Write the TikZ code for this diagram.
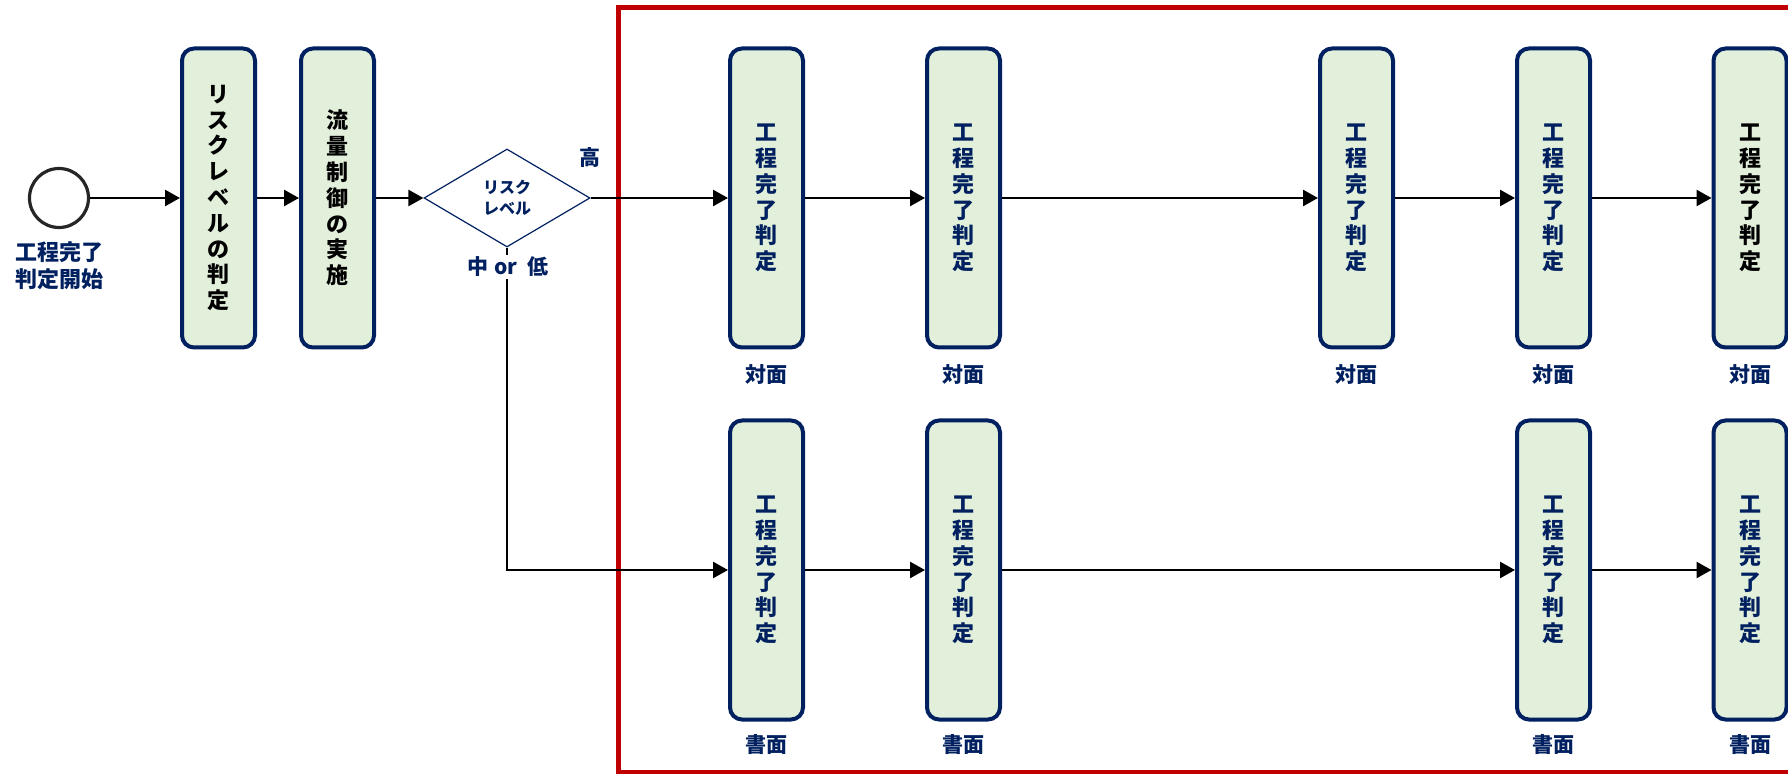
\documentclass[tikz,border=0pt]{standalone}
\usepackage{fontspec}
\setmainfont{Noto Sans CJK JP}
\usepackage{xcolor}
\usetikzlibrary{arrows.meta,positioning,shapes.geometric}
\definecolor{navy}{HTML}{002060}
\definecolor{boxgreen}{HTML}{E2EFDA}
\definecolor{framered}{HTML}{C00000}

\begin{document}
\begin{tikzpicture}[
  x=0.5pt, y=-0.5pt, on grid,
  every node/.style={font=\bfseries\fontsize{10.5}{12.8}\selectfont, align=center, text=navy},
  stage/.style={draw=navy, line width=2pt, rounded corners=6pt, fill=boxgreen, minimum width=36.5pt, minimum height=149.5pt, inner sep=0pt, font=\bfseries\fontsize{11}{12.9}\selectfont},
  startev/.style={circle, draw=black!85, line width=1.6pt, fill=white, minimum size=29.5pt, inner sep=0pt},
  decision/.style={diamond, draw=navy, line width=0.6pt, minimum width=83pt, minimum height=49pt, inner sep=0pt, font=\bfseries\fontsize{8}{10.5}\selectfont},
  modelabel/.style={inner sep=1pt},
  flow/.style={-{Triangle[length=7.5pt,width=8pt]}, line width=1.25pt},
  redframe/.style={draw=framered, line width=2.5pt}
]
\useasboundingbox (0,0) rectangle (1788,774);
\draw[redframe] (618,8) rectangle (1810,772);

\node[startev] (start) at (59,198) {};
\node[below=34pt of start, font=\bfseries\fontsize{11}{13.5}\selectfont] (startlbl) {工程完了\\判定開始};
\node[stage, text=black, right=79.75pt of start] (risk) {リ\\ス\\ク\\レ\\ベ\\ル\\の\\判\\定};
\node[stage, text=black, right=59.5pt of risk] (flowctl) {流\\量\\制\\御\\の\\実\\施};
\node[decision, right=84.75pt of flowctl] (level) {リスク\\レベル};
\node (high) at (590,158) {高};

\node[stage, right=129.75pt of level] (t1) {工\\程\\完\\了\\判\\定};
\node[stage, right=98.5pt of t1] (t2) {工\\程\\完\\了\\判\\定};
\node[stage, right=196.5pt of t2] (t3) {工\\程\\完\\了\\判\\定};
\node[stage, right=98.5pt of t3] (t4) {工\\程\\完\\了\\判\\定};
\node[stage, text=black, right=98.25pt of t4] (t5) {工\\程\\完\\了\\判\\定};

\node[stage, below=186pt of t1] (b1) {工\\程\\完\\了\\判\\定};
\node[stage, below=186pt of t2] (b2) {工\\程\\完\\了\\判\\定};
\node[stage, below=186pt of t4] (b4) {工\\程\\完\\了\\判\\定};
\node[stage, below=186pt of t5] (b5) {工\\程\\完\\了\\判\\定};

\foreach \n in {t1,t2,t3,t4,t5}
  \node[modelabel, below=88.25pt of \n] (\n lbl) {対面};
\foreach \n in {b1,b2,b4,b5}
  \node[modelabel, below=87.5pt of \n] (\n lbl) {書面};

\draw[flow] (start) -- (risk);
\draw[flow] (risk) -- (flowctl);
\draw[flow] (flowctl) -- (level);
\draw[flow] (level) -- (t1);
\draw[flow] (t1) -- (t2);
\draw[flow] (t2) -- (t3);
\draw[flow] (t3) -- (t4);
\draw[flow] (t4) -- (t5);
\draw[flow] (level.south) |- (b1);
\draw[flow] (b1) -- (b2);
\draw[flow] (b2) -- (b4);
\draw[flow] (b4) -- (b5);

\node[modelabel, fill=white] (midlow) at (508,267) {中\hspace{3pt}or\hspace{5pt}低};
\end{tikzpicture}
\end{document}
